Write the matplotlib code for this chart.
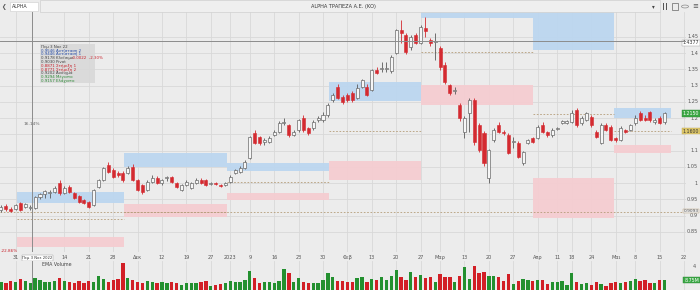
import matplotlib
matplotlib.use("Agg")
import matplotlib.pyplot as plt
import matplotlib.transforms as mtransforms
from matplotlib.patches import Rectangle, Circle
import numpy as np

# ---------------- data ----------------
opens = [0.917, 0.929, 0.920, 0.920, 0.938, 0.926, 0.923, 0.923, 0.957, 0.966,
         0.968, 0.972, 1.000, 0.969, 0.988, 0.969, 0.960, 0.948, 0.942, 0.932,
         0.988, 1.009, 1.055, 1.040, 1.031, 1.031, 1.031, 1.049, 1.009, 0.994,
         0.978, 1.003, 1.015, 1.000, 1.015, 1.018, 1.000, 0.978, 0.994, 0.985,
         1.000, 1.009, 1.009, 0.997, 1.000, 0.994, 0.994, 1.003, 1.031, 1.034,
         1.046, 1.077, 1.154, 1.142, 1.126, 1.126, 1.148, 1.157, 1.185, 1.178,
         1.148, 1.163, 1.200, 1.169, 1.169, 1.194, 1.194, 1.209, 1.255, 1.295,
         1.265, 1.271, 1.277, 1.262, 1.295, 1.295, 1.286, 1.348, 1.351, 1.352,
         1.345, 1.400, 1.471, 1.455, 1.418, 1.455, 1.431, 1.477, 1.440, 1.434,
         1.415, 1.363, 1.302, 1.283, 1.240, 1.157, 1.215, 1.255, 1.178, 1.154,
         1.015, 1.132, 1.178, 1.157, 1.148, 1.126, 1.123, 1.062, 1.123, 1.138,
         1.138, 1.178, 1.157, 1.148, 1.166, 1.185, 1.185, 1.188, 1.225, 1.185,
         1.194, 1.203, 1.157, 1.123, 1.178, 1.172, 1.138, 1.132, 1.163, 1.163,
         1.185, 1.215, 1.200, 1.218, 1.188, 1.200, 1.188]
highs = [0.932, 0.935, 0.926, 0.936, 0.942, 0.939, 0.932, 0.960, 0.970, 0.980,
         0.978, 0.990, 1.009, 0.990, 0.994, 0.972, 0.963, 0.952, 0.946, 0.982,
         1.012, 1.050, 1.065, 1.046, 1.037, 1.037, 1.052, 1.058, 1.012, 0.997,
         1.009, 1.025, 1.021, 1.012, 1.021, 1.021, 1.003, 0.997, 1.009, 1.003,
         1.015, 1.015, 1.012, 1.003, 1.003, 0.997, 1.003, 1.025, 1.043, 1.052,
         1.071, 1.145, 1.163, 1.145, 1.138, 1.145, 1.163, 1.191, 1.200, 1.182,
         1.163, 1.197, 1.209, 1.172, 1.194, 1.206, 1.218, 1.246, 1.277, 1.305,
         1.271, 1.277, 1.283, 1.305, 1.320, 1.305, 1.351, 1.357, 1.372, 1.372,
         1.394, 1.474, 1.502, 1.462, 1.455, 1.462, 1.486, 1.511, 1.446, 1.462,
         1.422, 1.372, 1.305, 1.295, 1.246, 1.206, 1.262, 1.262, 1.185, 1.160,
         1.105, 1.169, 1.188, 1.163, 1.154, 1.142, 1.129, 1.099, 1.135, 1.142,
         1.178, 1.188, 1.160, 1.169, 1.172, 1.194, 1.194, 1.225, 1.231, 1.206,
         1.218, 1.209, 1.163, 1.185, 1.185, 1.178, 1.142, 1.175, 1.166, 1.182,
         1.209, 1.222, 1.209, 1.222, 1.200, 1.206, 1.218]
lows = [0.910, 0.915, 0.910, 0.916, 0.914, 0.922, 0.918, 0.920, 0.952, 0.955,
        0.954, 0.968, 0.963, 0.965, 0.969, 0.950, 0.938, 0.935, 0.922, 0.929,
        0.985, 1.006, 1.031, 1.015, 1.018, 1.003, 1.028, 1.006, 0.975, 0.966,
        0.975, 1.000, 0.997, 0.994, 1.006, 1.000, 0.985, 0.975, 0.991, 0.982,
        0.997, 0.997, 0.991, 0.994, 0.994, 0.988, 0.991, 1.000, 1.028, 1.031,
        1.043, 1.074, 1.120, 1.117, 1.117, 1.123, 1.145, 1.154, 1.178, 1.142,
        1.145, 1.157, 1.157, 1.148, 1.163, 1.188, 1.188, 1.203, 1.249, 1.258,
        1.243, 1.249, 1.249, 1.258, 1.292, 1.268, 1.283, 1.335, 1.342, 1.342,
        1.338, 1.397, 1.431, 1.397, 1.409, 1.428, 1.428, 1.449, 1.422, 1.378,
        1.348, 1.305, 1.271, 1.274, 1.191, 1.138, 1.157, 1.117, 1.095, 1.052,
        1.000, 1.126, 1.154, 1.148, 1.089, 1.108, 1.077, 1.055, 1.120, 1.123,
        1.135, 1.154, 1.142, 1.142, 1.163, 1.182, 1.182, 1.185, 1.172, 1.178,
        1.191, 1.172, 1.138, 1.120, 1.160, 1.129, 1.126, 1.129, 1.154, 1.160,
        1.178, 1.191, 1.191, 1.188, 1.182, 1.182, 1.182]
closes = [0.926, 0.920, 0.914, 0.932, 0.917, 0.935, 0.926, 0.957, 0.966, 0.975,
          0.972, 0.985, 0.969, 0.985, 0.972, 0.954, 0.942, 0.940, 0.926, 0.978,
          1.009, 1.046, 1.034, 1.018, 1.025, 1.009, 1.046, 1.009, 0.978, 0.972,
          1.003, 1.015, 1.000, 1.009, 1.018, 1.003, 0.988, 0.994, 1.003, 1.000,
          1.009, 1.000, 0.994, 1.000, 0.997, 0.991, 1.000, 1.018, 1.040, 1.046,
          1.065, 1.142, 1.123, 1.123, 1.132, 1.138, 1.157, 1.185, 1.188, 1.148,
          1.157, 1.194, 1.163, 1.154, 1.188, 1.200, 1.209, 1.240, 1.271, 1.262,
          1.249, 1.255, 1.255, 1.292, 1.317, 1.271, 1.348, 1.338, 1.354, 1.355,
          1.388, 1.471, 1.462, 1.403, 1.449, 1.431, 1.480, 1.468, 1.431, 1.437,
          1.357, 1.311, 1.277, 1.286, 1.200, 1.200, 1.255, 1.126, 1.102, 1.062,
          1.102, 1.163, 1.157, 1.154, 1.092, 1.129, 1.080, 1.095, 1.132, 1.126,
          1.172, 1.157, 1.148, 1.163, 1.169, 1.191, 1.191, 1.215, 1.178, 1.200,
          1.215, 1.178, 1.142, 1.178, 1.163, 1.132, 1.132, 1.169, 1.157, 1.178,
          1.200, 1.194, 1.194, 1.194, 1.194, 1.185, 1.215]
volumes = [7.0, 6.1, 7.9, 7.0, 9.6, 7.9, 6.1, 10.5, 8.8, 7.0,
           7.0, 7.9, 10.5, 7.9, 7.0, 6.1, 7.9, 6.1, 7.9, 7.0,
           12.3, 9.6, 7.0, 8.8, 9.6, 23.6, 10.5, 8.8, 7.0, 6.1,
           7.9, 7.0, 6.1, 7.0, 6.1, 7.0, 6.1, 4.4, 6.1, 6.1,
           6.1, 7.0, 7.9, 3.5, 4.4, 5.3, 6.1, 7.9, 7.0, 7.0,
           8.8, 16.6, 10.5, 6.1, 7.0, 7.0, 6.1, 7.9, 18.4, 14.9,
           7.0, 10.5, 7.0, 6.1, 6.1, 6.1, 8.8, 14.9, 11.4, 7.9,
           7.9, 7.0, 7.0, 10.5, 11.4, 7.0, 9.6, 8.8, 11.4, 8.8,
           12.3, 17.5, 11.4, 8.8, 15.8, 11.4, 13.1, 10.5, 11.4, 7.0,
           14.0, 11.4, 11.4, 7.0, 12.3, 20.1, 9.6, 21.0, 14.9, 15.8,
           12.3, 12.3, 11.4, 7.9, 14.0, 5.3, 7.9, 9.6, 8.8, 7.9,
           8.8, 8.8, 5.3, 7.0, 7.0, 7.9, 4.4, 14.9, 7.0, 5.3,
           6.1, 4.4, 7.0, 5.3, 3.5, 6.1, 7.0, 6.1, 7.0, 7.9,
           9.6, 7.9, 8.8, 6.1, 6.1, 8.8, 8.75]

tick_pos = [3, 13, 18, 23, 28, 33, 38, 43, 47, 51, 56, 61, 66, 71, 76, 81, 86,
            90, 95, 100, 105, 110, 114, 117, 121, 126, 130, 135, 140]
tick_labels = ["31", "14", "21", "28", "Δεκ", "12", "19", "27", "2023", "9", "16",
               "23", "30", "Φεβ", "13", "20", "27", "Μαρ", "13", "20", "27", "Απρ",
               "11", "18", "24", "Μαι", "8", "15", "22"]
price_ticks = [0.85, 0.9, 0.95, 1.0, 1.05, 1.1, 1.15, 1.2, 1.25, 1.3, 1.35, 1.4, 1.45]

# monthly pivot zones
zone_start = [3.3, 25.2, 46.4, 67.2, 86.1, 109.1, 125.6]
zone_end = [25.2, 46.4, 67.2, 86.1, 109.1, 125.6, 137.3]
res_lo = [0.938, 1.049, 1.037, 1.252, 1.508, 1.409, 1.200]
res_hi = [0.972, 1.092, 1.062, 1.311, 1.560, 1.560, 1.231]
sup_lo = [0.803, 0.895, 0.948, 1.009, 1.240, 0.892, 1.092]
sup_hi = [0.834, 0.935, 0.969, 1.068, 1.302, 1.015, 1.117]
pivots = [0.889, 0.911, 1.003, 1.160, 1.403, 1.212, 1.160]
long_level = 0.911
cross_idx = 6.3
cross_price = 1.4377

# ---------------- figure ----------------
W, H = 700, 290
BG = "#ececec"
fig = plt.figure(figsize=(7, 2.9), dpi=100, facecolor=BG)


def fx(px):
    return px / W


def fy(py):
    return 1 - py / H


ax = fig.add_axes([0, fy(252), fx(686), (252 - 12) / H])
axv = fig.add_axes([0, 0, fx(686), (290 - 261) / H])
n = min(len(opens), len(closes), len(highs), len(lows), len(volumes))
x = np.arange(n)
xlim = (-0.2, 140.4)
for a in (ax, axv):
    a.set_facecolor(BG)
    for s in a.spines.values():
        s.set_visible(False)
    a.set_xlim(*xlim)
    a.set_axisbelow(True)
    for t in tick_pos:
        a.axvline(t, color="#d8d8d8", lw=0.6, zorder=0)

ax.set_ylim(0.7877, 1.5262)
for p in price_ticks:
    ax.axhline(p, color="#d8d8d8", lw=0.6, zorder=0)
ax.set_yticks([])
axv.set_yticks([])
axv.set_xticks([])
axv.set_ylim(0, 25.4)

ax.set_xticks(tick_pos)
ax.set_xticklabels(tick_labels)
ax.tick_params(axis="x", length=0, pad=2.2, labelsize=3.6, labelcolor="#555555")

# zones
for s, e, rl, rh, sl, sh, pv in zip(zone_start, zone_end, res_lo, res_hi,
                                      sup_lo, sup_hi, pivots):
    ax.add_patch(Rectangle((s, rl), e - s, rh - rl, facecolor="#bcd6f0",
                           edgecolor="none", alpha=0.95, zorder=1))
    ax.add_patch(Rectangle((s, sl), e - s, sh - sl, facecolor="#f5cdd1",
                           edgecolor="none", alpha=0.95, zorder=1))
    ax.hlines(pv, s, e, colors="#b49c78", lw=0.6, linestyles=(0, (2, 2)), zorder=2)
ax.axhline(long_level, color="#b49c78", lw=0.6, ls=(0, (2, 2)), zorder=2)

# candles
o = np.array(opens[:n]); c = np.array(closes[:n])
h = np.array(highs[:n]); l = np.array(lows[:n])
up = c >= o
wick_col = np.where(up, "#5a5a5a", "#d42a30")
ax.vlines(x, l, h, colors=wick_col, lw=0.6, zorder=3)
body_lo = np.minimum(o, c)
body_h = np.maximum(np.abs(c - o), 0.0025)
ax.bar(x[up], body_h[up], bottom=body_lo[up], width=0.62, color="#f6f6f6",
       edgecolor="#6a6a6a", linewidth=0.5, zorder=4)
ax.bar(x[~up], body_h[~up], bottom=body_lo[~up], width=0.62, color="#d42a30",
       edgecolor="#d42a30", linewidth=0.4, zorder=4)

# volume
vcol = np.where(up, "#23902f", "#d21f26")
axv.bar(x, volumes[:n], width=0.68, color=vcol, zorder=3)

# crosshair
ax.axvline(cross_idx, color="#8c8c8c", lw=0.7, zorder=5)
axv.axvline(cross_idx, color="#8c8c8c", lw=0.7, zorder=5)
ax.axhline(cross_price, color="#8c8c8c", lw=0.7, zorder=5)

# right price labels (boxed labels drawn over the levels they cover)
boxed_levels = [closes[n - 1], pivots[-1]]
trans = mtransforms.blended_transform_factory(fig.transFigure, ax.transData)
for p in price_ticks:
    if any(abs(p - b) < 0.012 for b in boxed_levels):
        continue
    ax.text(fx(698), p, f"{p:g}", transform=trans, ha="right", va="center",
            fontsize=3.6, color="#555555", clip_on=False)
ax.text(fx(699), cross_price - 0.006, f"{cross_price:.4f}", transform=trans,
        ha="right", va="center", fontsize=3.4, color="#333333", clip_on=False,
        bbox=dict(boxstyle="square,pad=0.15", fc="white", ec="#999999", lw=0.3))
ax.text(fx(699), long_level + 0.003, "0.9093", transform=trans, ha="right",
        va="center", fontsize=3.2, color="#555555", clip_on=False,
        bbox=dict(boxstyle="square,pad=0.1", fc=BG, ec="#b49c78", lw=0.3))
ax.text(fx(699), closes[n - 1], f"{closes[n - 1]:.4f}", transform=trans,
        ha="right", va="center", fontsize=3.4, color="white", clip_on=False,
        bbox=dict(boxstyle="square,pad=0.2", fc="#3aa744", ec="#2d8a36", lw=0.3))
ax.text(fx(699), pivots[-1], f"{pivots[-1]:.4f}", transform=trans,
        ha="right", va="center", fontsize=3.4, color="#333333", clip_on=False,
        bbox=dict(boxstyle="square,pad=0.2", fc="#e0c96b", ec="#b9a24a", lw=0.3))
transv = mtransforms.blended_transform_factory(fig.transFigure, axv.transData)
axv.text(fx(699), volumes[n - 1], f"{volumes[n - 1]:.2f}M", transform=transv,
         ha="right", va="center", fontsize=3.4, color="white", clip_on=False,
         bbox=dict(boxstyle="square,pad=0.2", fc="#3aa744", ec="#2d8a36", lw=0.3))
fig.text(fx(694), fy(266), "4", ha="center", va="center", fontsize=3.6,
         color="#555555")

# crosshair date label
ax.text(cross_idx + 1.2, -0.025, "Πεμ 3 Νοε 2022", transform=ax.get_xaxis_transform(),
        ha="center", va="center", fontsize=2.7, color="#333333", clip_on=False,
        zorder=6, bbox=dict(boxstyle="square,pad=0.2", fc="white", ec="#999999", lw=0.3))

# volume label
fig.text(fx(42), fy(264), "ΕΜΑ Volume", ha="left", va="center", fontsize=3.4,
         color="#444444")

# info box
fig.patches.append(Rectangle((fx(40), fy(83)), fx(55), (83 - 44) / H,
                             transform=fig.transFigure, facecolor="#d8d8d8",
                             edgecolor="none", alpha=0.9, zorder=6))
info = [("Πεμ 3 Νοε 22", "#444444"),
        ("0.9546 Αντίσταση 2", "#2a4fa8"),
        ("0.9446 Αντίσταση 1", "#2a4fa8"),
        ("0.9178 Κλείσιμο", "#444444"),
        ("0.9030 Pivot", "#444444"),
        ("0.8871 Στήριξη 1", "#c8202a"),
        ("0.8771 Στήριξη 2", "#c8202a"),
        ("0.9202 Άνοιγμα", "#444444"),
        ("0.9294 Μέγιστο", "#2d8a36"),
        ("0.9157 Ελάχιστο", "#2d8a36")]
for k, (txt, col) in enumerate(info):
    fig.text(fx(41), fy(47 + 3.75 * k), txt, ha="left", va="center",
             fontsize=2.9, color=col, zorder=7)
fig.text(fx(71), fy(47 + 3.75 * 3), "-0.0022  -2.30%", ha="left", va="center",
         fontsize=2.9, color="#c8202a", zorder=7)

fig.text(fx(32), fy(124), "16.14%", ha="center", va="center", fontsize=3.2,
         color="#666666")
fig.text(fx(1), fy(251), "-22.86%", ha="left", va="center", fontsize=3.0,
         color="#c8202a")

# top bar
fig.patches.append(Rectangle((fx(40), fy(12)), fx(620), 11.5 / H,
                             transform=fig.transFigure, facecolor="#efefef",
                             edgecolor="#cfcfcf", lw=0.5, zorder=1))
fig.patches.append(Rectangle((fx(10), fy(11)), fx(28), 9 / H,
                             transform=fig.transFigure, facecolor="white",
                             edgecolor="#cccccc", lw=0.4, zorder=2))
fig.text(fx(12), fy(6.5), "ALPHA", ha="left", va="center", fontsize=3.4,
         color="#333333", zorder=3)
fig.text(fx(4), fy(6.5), "❮", ha="center", va="center", fontsize=4,
         color="#555555")
fig.text(fx(343), fy(6.5), "ALPHA ΤΡΑΠΕΖΑ Α.Ε. (ΚΟ)", ha="center", va="center",
         fontsize=3.6, color="#333333", zorder=3)
fig.text(fx(653), fy(6.5), "▾", ha="center", va="center", fontsize=4,
         color="#444444", zorder=3)
# pause-like icon drawn as two small bars
for bx in (662.5, 665.5):
    fig.patches.append(Rectangle((fx(bx), fy(9.5)), fx(1.2), 6 / H,
                                 transform=fig.transFigure, facecolor="#555555",
                                 edgecolor="none"))
fig.patches.append(Rectangle((fx(672), fy(9.5)), fx(6), 6 / H,
                             transform=fig.transFigure, facecolor="none",
                             edgecolor="#666666", lw=0.5))
fig.patches.append(Circle((fx(685), fy(6.5)), fx(3.5), transform=fig.transFigure,
                          facecolor="none", edgecolor="#888888", lw=0.5))
fig.text(fx(695), fy(6.5), "≡", ha="center", va="center", fontsize=5,
         color="#555555")

fig.savefig("out.png", dpi=100, facecolor=BG)
